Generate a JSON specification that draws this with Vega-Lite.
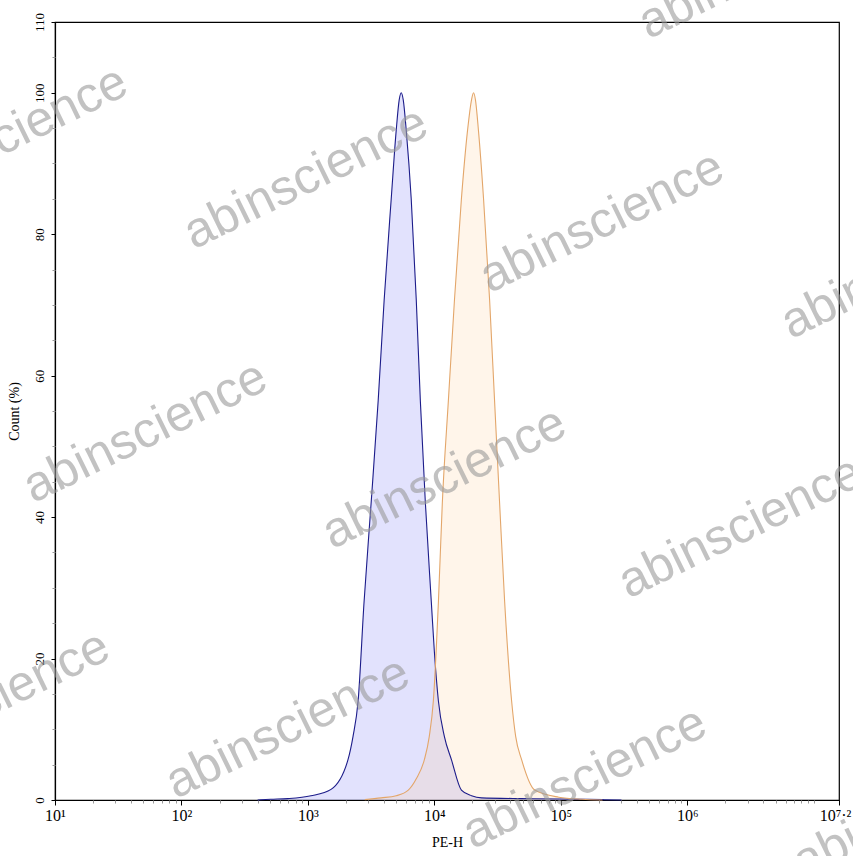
{
  "$schema": "https://vega.github.io/schema/vega-lite/v6.json",
  "width": 784,
  "height": 778,
  "autosize": "none",
  "padding": {"left": 55, "top": 22, "right": 14, "bottom": 56},
  "background": "white",
  "config": {
    "view": {"stroke": "black", "strokeWidth": 1.2},
    "axis": {"labelFont": "Liberation Serif", "titleFont": "Liberation Serif", "labelColor": "black", "titleColor": "black", "titleFontWeight": "normal", "grid": false}
  },
  "datasets": {
    "hist": [
      {"series": "control", "pe": 400, "count": 0},
      {"series": "control", "pe": 508, "count": 0.1},
      {"series": "control", "pe": 693, "count": 0.2},
      {"series": "control", "pe": 1057, "count": 0.6},
      {"series": "control", "pe": 1524, "count": 1.5},
      {"series": "control", "pe": 2075, "count": 5.7},
      {"series": "control", "pe": 2275, "count": 9},
      {"series": "control", "pe": 2495, "count": 14},
      {"series": "control", "pe": 2780, "count": 28},
      {"series": "control", "pe": 3162, "count": 42},
      {"series": "control", "pe": 3597, "count": 56.5},
      {"series": "control", "pe": 4009, "count": 70.7},
      {"series": "control", "pe": 4560, "count": 85},
      {"series": "control", "pe": 4989, "count": 94.6},
      {"series": "control", "pe": 5272, "count": 99},
      {"series": "control", "pe": 5470, "count": 100},
      {"series": "control", "pe": 5675, "count": 99},
      {"series": "control", "pe": 5998, "count": 94.6},
      {"series": "control", "pe": 6561, "count": 85},
      {"series": "control", "pe": 7194, "count": 70.7},
      {"series": "control", "pe": 7745, "count": 56.5},
      {"series": "control", "pe": 8492, "count": 42},
      {"series": "control", "pe": 9462, "count": 28},
      {"series": "control", "pe": 10000, "count": 21},
      {"series": "control", "pe": 10765, "count": 14},
      {"series": "control", "pe": 11995, "count": 9},
      {"series": "control", "pe": 13646, "count": 5.7},
      {"series": "control", "pe": 16368, "count": 1.4},
      {"series": "control", "pe": 19679, "count": 0.6},
      {"series": "control", "pe": 23605, "count": 0.3},
      {"series": "control", "pe": 48978, "count": 0.2},
      {"series": "control", "pe": 101859, "count": 0.15},
      {"series": "control", "pe": 213796, "count": 0.05},
      {"series": "control", "pe": 301995, "count": 0},
      {"series": "sample", "pe": 2818, "count": 0.05},
      {"series": "sample", "pe": 3793, "count": 0.3},
      {"series": "sample", "pe": 4989, "count": 0.6},
      {"series": "sample", "pe": 6223, "count": 1.4},
      {"series": "sample", "pe": 7194, "count": 3},
      {"series": "sample", "pe": 8337, "count": 5.7},
      {"series": "sample", "pe": 9120, "count": 9},
      {"series": "sample", "pe": 9817, "count": 14},
      {"series": "sample", "pe": 10765, "count": 28},
      {"series": "sample", "pe": 11561, "count": 42},
      {"series": "sample", "pe": 12912, "count": 56.5},
      {"series": "sample", "pe": 14421, "count": 70.7},
      {"series": "sample", "pe": 16368, "count": 85},
      {"series": "sample", "pe": 18281, "count": 94.6},
      {"series": "sample", "pe": 19679, "count": 99},
      {"series": "sample", "pe": 20417, "count": 100},
      {"series": "sample", "pe": 21135, "count": 99},
      {"series": "sample", "pe": 22336, "count": 94.6},
      {"series": "sample", "pe": 24491, "count": 85},
      {"series": "sample", "pe": 27353, "count": 70.7},
      {"series": "sample", "pe": 29923, "count": 56.5},
      {"series": "sample", "pe": 32810, "count": 42},
      {"series": "sample", "pe": 35975, "count": 28},
      {"series": "sample", "pe": 40832, "count": 14},
      {"series": "sample", "pe": 43954, "count": 9},
      {"series": "sample", "pe": 48978, "count": 5.7},
      {"series": "sample", "pe": 62230, "count": 1.4},
      {"series": "sample", "pe": 96383, "count": 0.4},
      {"series": "sample", "pe": 146893, "count": 0.1},
      {"series": "sample", "pe": 213796, "count": 0}
    ],
    "marks": [
      {"label": "abinscience", "pe": 964, "count": 87.9},
      {"label": "abinscience", "pe": 211349, "count": 81.7},
      {"label": "abinscience", "pe": 51.8, "count": 52.0},
      {"label": "abinscience", "pe": 11995, "count": 45.5},
      {"label": "abinscience", "pe": 2636331, "count": 38.5},
      {"label": "abinscience", "pe": 693, "count": 10.2},
      {"label": "abinscience", "pe": 154882, "count": 3.1},
      {"label": "abinscience", "pe": 3793000, "count": 117.6},
      {"label": "abinscience", "pe": 50816000, "count": 75.2},
      {"label": "abinscience", "pe": 4.08, "count": 93.7},
      {"label": "abinscience", "pe": 2.94, "count": 13.9},
      {"label": "abinscience", "pe": 63400000, "count": -1.1}
    ]
  },
  "resolve": {"axis": {"x": "independent", "y": "independent"}},
  "layer": [
    {
      "data": {"name": "hist"},
      "mark": {"type": "area", "fillOpacity": 0.2, "interpolate": "monotone"},
      "encoding": {
        "x": {"field": "pe", "type": "quantitative",
          "scale": {"type": "log", "domain": [10, 15848932]},
          "axis": {"orient": "bottom", "values": [10, 100, 1000, 10000, 100000, 1000000, 15848932],
            "labelExpr": "datum.value < 50 ? '10¹' : datum.value < 500 ? '10²' : datum.value < 5000 ? '10³' : datum.value < 50000 ? '10⁴' : datum.value < 500000 ? '10⁵' : datum.value < 5000000 ? '10⁶' : '10⁷·²'",
            "labelOffset": {"condition": {"test": "datum.value > 10000000", "value": -4}, "value": 0},
            "labelFontSize": 16, "labelPadding": 2, "tickSize": 5, "tickColor": "black", "domainColor": "black", "domainWidth": 1.2,
            "title": "PE-H", "titleFontSize": 14, "titlePadding": 12, "labelFlush": false, "labelOverlap": false}},
        "y": {"field": "count", "type": "quantitative", "stack": null,
          "scale": {"domain": [0, 110], "nice": false, "zero": true},
          "axis": {"orient": "left", "values": [0, 20, 40, 60, 80, 100, 110], "labelAngle": -90, "labelAlign": "center", "labelBaseline": "bottom",
            "labelFontSize": 13, "labelPadding": 5, "tickSize": 4, "tickColor": "black", "domainColor": "black", "domainWidth": 1.2,
            "title": "Count (%)", "titleFontSize": 14, "titlePadding": 12, "labelOverlap": false}},
        "detail": {"field": "series"},
        "fill": {"field": "series", "type": "nominal", "scale": {"domain": ["control", "sample"], "range": ["#7070f5", "#ffcc95"]}, "legend": null}
      }
    },
    {
      "data": {"name": "hist"},
      "mark": {"type": "line", "strokeWidth": 1.1, "interpolate": "monotone"},
      "encoding": {
        "x": {"field": "pe", "type": "quantitative", "scale": {"type": "log", "domain": [10, 15848932]},
          "axis": {"orient": "bottom", "values": [20,30,40,50,60,70,80,90,200,300,400,500,600,700,800,900,2000,3000,4000,5000,6000,7000,8000,9000,20000,30000,40000,50000,60000,70000,80000,90000,200000,300000,400000,500000,600000,700000,800000,900000,2000000,3000000,4000000,5000000,6000000,7000000,8000000,9000000,10000000],
            "labels": false, "domain": false, "tickSize": 3, "tickColor": "#999999", "title": null}},
        "y": {"field": "count", "type": "quantitative", "scale": {"domain": [0, 110], "nice": false},
          "axis": {"orient": "left", "values": [5,10,15,25,30,35,45,50,55,65,70,75,85,90,95,105], "labels": false, "domain": false, "tickSize": 3, "tickColor": "#999999", "title": null}},
        "stroke": {"field": "series", "type": "nominal", "scale": {"domain": ["control", "sample"], "range": ["#1c1c8a", "#e3a66a"]}, "legend": null}
      }
    },
    {
      "data": {"name": "marks"},
      "mark": {"type": "text", "font": "Liberation Sans", "fontSize": 50, "angle": -26, "align": "center", "baseline": "middle", "color": "#9a9a9a", "opacity": 0.6},
      "encoding": {
        "x": {"field": "pe", "type": "quantitative", "scale": {"type": "log", "domain": [10, 15848932]}, "axis": null},
        "y": {"field": "count", "type": "quantitative", "scale": {"domain": [0, 110], "nice": false}, "axis": null},
        "text": {"field": "label"}
      }
    }
  ]
}
